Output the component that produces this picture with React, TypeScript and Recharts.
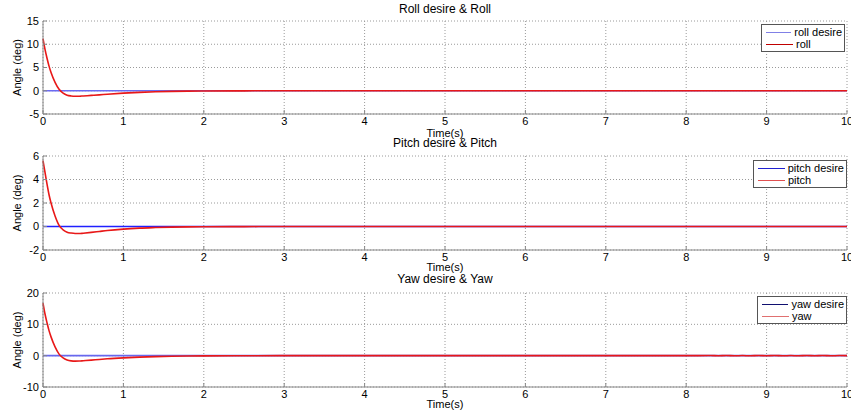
import React from 'react';
import { LineChart, Line, XAxis, YAxis, CartesianGrid, Legend } from 'recharts';

const time = [0, 0.025, 0.05, 0.075, 0.1, 0.15, 0.2, 0.25, 0.3, 0.35, 0.4, 0.45, 0.5, 0.6, 0.7, 0.8, 1.0, 1.2, 1.4, 1.6, 1.8, 2.0, 2.5, 3, 4, 5, 6, 7, 8, 8.3, 8.4, 8.5, 8.6, 8.7, 8.8, 8.9, 9, 9.1, 9.2, 9.3, 9.4, 9.5, 9.6, 9.7, 9.8, 9.9, 10];

const roll = [11.2, 8.9, 7.0, 5.3, 3.9, 1.8, 0.3, -0.5, -0.95, -1.12, -1.18, -1.18, -1.12, -1.0, -0.88, -0.75, -0.52, -0.35, -0.23, -0.14, -0.08, -0.05, -0.02, 0, 0, 0, 0, 0, 0, 0, 0, 0, 0, 0, 0, 0, 0, 0, 0, 0, 0, 0, 0, 0, 0, 0, 0];
const pitch = [5.6, 4.6, 3.6, 2.7, 2.0, 0.9, 0.1, -0.28, -0.48, -0.56, -0.6, -0.6, -0.57, -0.5, -0.42, -0.34, -0.22, -0.14, -0.09, -0.05, -0.03, -0.02, -0.01, 0, 0, 0, 0, 0, 0, 0, 0, 0, 0, 0, 0, 0, 0, 0, 0, 0, 0, 0, 0, 0, 0, 0, 0];
const yaw = [16.8, 13.3, 10.5, 8.0, 6.0, 2.8, 0.5, -0.7, -1.35, -1.65, -1.75, -1.72, -1.62, -1.42, -1.2, -1.0, -0.7, -0.48, -0.32, -0.2, -0.12, -0.07, -0.03, 0, 0, 0, 0, 0, 0, 0.05, -0.04, 0.05, -0.05, 0.04, -0.05, 0.05, -0.04, 0.05, -0.05, 0.04, -0.05, 0.05, -0.04, 0.05, -0.05, 0.04, 0];
const desire = [0, 0, 0, 0, 0, 0, 0, 0, 0, 0, 0, 0, 0, 0, 0, 0, 0, 0, 0, 0, 0, 0, 0, 0, 0, 0, 0, 0, 0, 0, 0, 0, 0, 0, 0, 0, 0, 0, 0, 0, 0, 0, 0, 0, 0, 0, 0];

const xTicks = [0, 1, 2, 3, 4, 5, 6, 7, 8, 9, 10];
const rollTicks = [-5, 0, 5, 10, 15];
const pitchTicks = [-2, 0, 2, 4, 6];
const yawTicks = [-10, 0, 10, 20];

const rows = time.map((t, i) => ({
  t,
  rollDesire: desire[i],
  roll: roll[i],
  pitchDesire: desire[i],
  pitch: pitch[i],
  yawDesire: desire[i],
  yaw: yaw[i],
}));

const FONT = '"Liberation Sans", Arial, Helvetica, sans-serif';
const AXIS = '#888';

type PanelProps = {
  top: number;
  height: number;
  marginTop: number;
  xAxisHeight: number;
  xLabelTop: number;
  title: string;
  titleTop: number;
  desireKey: string;
  actualKey: string;
  domain: [number, number];
  ticks: number[];
  desireColor: string;
  actualColor: string;
  legDesireColor: string;
  legActualColor: string;
  legLeft: number;
  legTop: number;
  legWidth: number;
  desireName: string;
  actualName: string;
};

function Panel(p: PanelProps) {
  const legendContent = () => (
    <div
      style={{
        border: '1px solid #555',
        background: '#fff',
        width: p.legWidth,
        boxSizing: 'border-box',
        padding: '1px 2px 1px 4px',
        fontSize: 11,
        lineHeight: '12px',
        color: '#000',
      }}
    >
      {[
        { c: p.legDesireColor, n: p.desireName },
        { c: p.legActualColor, n: p.actualName },
      ].map((r) => (
        <div key={r.n} style={{ display: 'flex', alignItems: 'center', whiteSpace: 'nowrap' }}>
          <span style={{ display: 'inline-block', width: 27, height: 0, borderTop: `1.5px solid ${r.c}`, marginRight: 3 }} />
          {r.n}
        </div>
      ))}
    </div>
  );
  return (
    <>
      <div style={{ position: 'absolute', top: p.top, left: 0 }}>
        <LineChart width={851} height={p.height} data={rows} margin={{ top: p.marginTop, right: 4, left: 0, bottom: 0 }}>
          <CartesianGrid strokeDasharray="1 2" stroke="#9a9a9a" />
          <XAxis
            dataKey="t"
            type="number"
            domain={[0, 10]}
            ticks={xTicks}
            interval={0}
            height={p.xAxisHeight}
            tickSize={-4}
            tickMargin={7}
            stroke={AXIS}
            tick={{ fill: '#000', fontSize: 11 }}
          />
          <XAxis
            xAxisId="top"
            orientation="top"
            dataKey="t"
            type="number"
            domain={[0, 10]}
            ticks={xTicks}
            interval={0}
            height={0}
            tickSize={4}
            tick={false}
            stroke={AXIS}
          />
          <YAxis
            type="number"
            domain={p.domain}
            ticks={p.ticks}
            interval={0}
            width={43}
            tickSize={-4}
            tickMargin={8}
            stroke={AXIS}
            tick={{ fill: '#000', fontSize: 11 }}
            label={{
              value: 'Angle (deg)',
              angle: -90,
              position: 'insideLeft',
              offset: 17,
              fill: '#000',
              fontSize: 11,
              style: { textAnchor: 'middle' },
            }}
          />
          <YAxis
            yAxisId="right"
            orientation="right"
            type="number"
            domain={p.domain}
            ticks={p.ticks}
            interval={0}
            width={0}
            tickSize={4}
            tick={false}
            stroke={AXIS}
          />
          <Legend
            layout="vertical"
            align="center"
            verticalAlign="middle"
            wrapperStyle={{ top: p.legTop, left: p.legLeft, width: p.legWidth }}
            content={legendContent}
          />
          <Line
            type="linear"
            dataKey={p.desireKey}
            stroke={p.desireColor}
            strokeWidth={1.6}
            dot={false}
            isAnimationActive={false}
          />
          <Line
            type="monotone"
            dataKey={p.actualKey}
            stroke={p.actualColor}
            strokeWidth={1.6}
            dot={false}
            isAnimationActive={false}
          />
        </LineChart>
      </div>
      <div
        style={{
          position: 'absolute',
          top: p.titleTop,
          left: 0,
          width: 890,
          textAlign: 'center',
          fontSize: 12,
          lineHeight: '12px',
          color: '#000',
        }}
      >
        {p.title}
      </div>
      <div
        style={{
          position: 'absolute',
          top: p.xLabelTop,
          left: 0,
          width: 890,
          textAlign: 'center',
          fontSize: 11,
          lineHeight: '10px',
          color: '#000',
        }}
      >
        Time(s)
      </div>
    </>
  );
}

export default function App() {
  return (
    <div
      style={{
        position: 'absolute',
        left: 0,
        top: 0,
        width: 851,
        height: 415,
        background: '#fff',
        fontFamily: FONT,
        overflow: 'hidden',
      }}
    >
      <Panel
        top={0}
        height={137}
        marginTop={21}
        xAxisHeight={23}
        xLabelTop={128}
        title="Roll desire & Roll"
        titleTop={3}
        desireKey="rollDesire"
        actualKey="roll"
        domain={[-5, 15]}
        ticks={rollTicks}
        desireColor="#6b6bf2"
        actualColor="#e81818"
        legDesireColor="#8080e6"
        legActualColor="#c00000"
        legLeft={761}
        legTop={24}
        legWidth={84}
        desireName="roll desire"
        actualName="roll"
      />
      <Panel
        top={137}
        height={136}
        marginTop={19}
        xAxisHeight={23}
        xLabelTop={262}
        title="Pitch desire & Pitch"
        titleTop={137}
        desireKey="pitchDesire"
        actualKey="pitch"
        domain={[-2, 6]}
        ticks={pitchTicks}
        desireColor="#2020ff"
        actualColor="#e81818"
        legDesireColor="#2020d0"
        legActualColor="#e05050"
        legLeft={753}
        legTop={23}
        legWidth={94}
        desireName="pitch desire"
        actualName="pitch"
      />
      <Panel
        top={273}
        height={142}
        marginTop={20}
        xAxisHeight={28}
        xLabelTop={399}
        title="Yaw desire & Yaw"
        titleTop={273}
        desireKey="yawDesire"
        actualKey="yaw"
        domain={[-10, 20]}
        ticks={yawTicks}
        desireColor="#6868ee"
        actualColor="#e81818"
        legDesireColor="#101070"
        legActualColor="#e07070"
        legLeft={757}
        legTop={23}
        legWidth={90}
        desireName="yaw desire"
        actualName="yaw"
      />
    </div>
  );
}
